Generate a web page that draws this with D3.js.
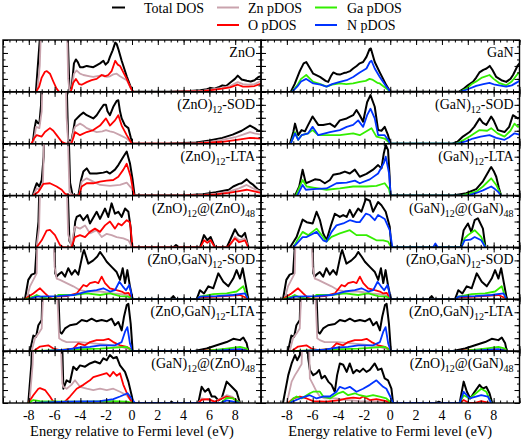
<!DOCTYPE html>
<html><head><meta charset="utf-8">
<script src="https://cdn.jsdelivr.net/npm/d3@7"></script>
<style>body{margin:0;background:#fff}svg{display:block}
svg text{font-family:"Liberation Serif","DejaVu Serif","Noto Serif",serif !important;}</style>
</head><body>
<svg id="c" width="522" height="439"></svg>
<script>
// ---------- tick labels / legend ----------
const xTicks = [-8,-6,-4,-2,0,2,4,6,8];
const legendNames = ["Total DOS","Zn pDOS","O pDOS","Ga pDOS","N pDOS"];
const leftLabels = ["ZnO","(ZnO)|12|-SOD","(ZnO)|12|-LTA","(ZnO)|12|@(ZnO)|48","(ZnO,GaN)|12|-SOD","(ZnO,GaN)|12|-LTA","(GaN)|12|@(ZnO)|48"];
const rightLabels = ["GaN","(GaN)|12|-SOD","(GaN)|12|-LTA","(GaN)|12|@(GaN)|48","(ZnO,GaN)|12|-SOD","(ZnO,GaN)|12|-LTA","(ZnO)|12|@(GaN)|48"];

// ---------- data: [energy (eV), DOS] ----------
// ZnO bulk
const znoTot = [[-7.45,0],[-7.15,4],[-6.95,8],[-5.1,8],[-4.85,0.2],[-4.68,0.3],[-4.5,2.2],[-4.35,2.5],[-4.2,2.3],[-4.03,1.9],[-3.8,1.9],[-3.51,2.0],[-3.3,1.95],[-3.0,1.9],[-2.75,2.05],[-2.48,2.2],[-2.22,2.4],[-2.05,2.1],[-1.85,2.3],[-1.71,2.7],[-1.5,3.2],[-1.3,3.8],[-1.19,3.7],[-1.06,3.3],[-0.8,2.4],[-0.41,1.2],[-0.15,0.5],[0.05,0.05],[0.2,0],[2.8,0],[3.7,0.03],[4.5,0.06],[5.3,0.12],[5.8,0.2],[6.1,0.3],[6.4,0.25],[6.7,0.35],[7.0,0.5],[7.3,0.45],[7.6,0.7],[7.98,1.0],[8.2,1.25],[8.5,0.95],[8.9,0.85],[9.2,0.8],[9.5,0.9],[9.8,1.15],[10,1.2]];
const znoZn = [[-7.35,0],[-7.15,2],[-6.95,8],[-5.1,8],[-4.95,1],[-4.85,0.1],[-4.68,0.2],[-4.5,1.4],[-4.3,1.65],[-4.03,1.4],[-3.77,1.3],[-3.26,1.2],[-3.0,1.15],[-2.48,1.25],[-2.22,1.3],[-1.96,1.15],[-1.71,1.2],[-1.45,1.35],[-1.19,1.4],[-0.93,1.2],[-0.41,0.9],[-0.1,0.3],[0.1,0],[3.0,0],[5.5,0.1],[6.3,0.2],[7.0,0.3],[7.6,0.45],[8.2,0.75],[8.6,0.6],[9.0,0.55],[9.5,0.6],[9.9,0.8],[10,0.82]];
const znoO = [[-7.45,0],[-7.2,0.4],[-7.0,1.1],[-6.75,1.55],[-6.6,1.6],[-6.36,1.4],[-6.1,0.8],[-5.85,0.25],[-5.65,0],[-4.75,0],[-4.55,0.7],[-4.35,1.0],[-4.1,0.6],[-3.9,0.55],[-3.51,0.75],[-3.13,0.9],[-2.74,1.0],[-2.35,1.3],[-2.1,1.2],[-1.84,1.3],[-1.58,1.6],[-1.3,2.4],[-1.1,2.1],[-0.93,2.0],[-0.41,1.0],[-0.1,0.3],[0.1,0],[3.0,0],[5.5,0.05],[6.3,0.15],[7.0,0.25],[7.6,0.35],[8.2,0.55],[8.6,0.4],[9.0,0.4],[9.5,0.45],[9.9,0.6],[10,0.62]];
// GaN bulk
const ganTot = [[-7.7,0],[-7.4,0.6],[-7.0,1.6],[-6.7,2.2],[-6.5,2.3],[-6.2,1.8],[-5.96,1.4],[-5.44,1.15],[-5.0,0.85],[-4.8,0.77],[-4.6,1.2],[-4.41,1.5],[-4.1,1.35],[-3.9,1.33],[-3.6,1.45],[-3.37,1.5],[-3.1,1.6],[-2.87,1.8],[-2.6,2.0],[-2.36,2.2],[-2.1,2.3],[-1.84,2.7],[-1.6,3.3],[-1.5,3.35],[-1.2,2.3],[-0.81,1.5],[-0.3,0.5],[0.01,0],[5.3,0],[5.7,0.25],[6.0,0.5],[6.4,0.77],[6.65,1.1],[6.9,1.5],[7.2,1.7],[7.45,1.8],[7.7,2.0],[7.9,1.7],[8.2,1.15],[8.6,0.9],[8.97,0.77],[9.3,1.0],[9.5,1.3],[9.87,2.05],[10,2.2]];
const ganGa = [[-7.6,0],[-7.2,0.5],[-6.9,1.0],[-6.5,1.3],[-6.2,1.0],[-5.96,0.77],[-5.4,0.6],[-4.93,0.4],[-4.5,0.55],[-3.9,0.65],[-3.4,0.6],[-2.87,0.65],[-2.36,0.77],[-1.9,0.85],[-1.6,1.0],[-1.4,0.95],[-1.0,0.7],[-0.81,0.65],[-0.3,0.25],[0.01,0],[5.4,0],[5.9,0.25],[6.3,0.6],[6.65,0.8],[7.1,1.1],[7.68,1.3],[8.0,1.0],[8.4,0.7],[8.97,0.5],[9.4,0.8],[9.87,1.4],[10,1.5]];
const ganN = [[-7.6,0],[-7.2,0.4],[-6.9,0.8],[-6.5,1.0],[-6.2,0.8],[-5.96,0.65],[-5.4,0.55],[-4.93,0.4],[-4.5,0.6],[-3.9,0.77],[-3.37,0.9],[-2.87,1.15],[-2.36,1.5],[-1.84,1.8],[-1.58,2.3],[-1.45,2.4],[-1.2,1.8],[-0.81,1.15],[-0.3,0.4],[0.01,0],[5.4,0],[6.0,0.2],[6.65,0.46],[7.2,0.6],[7.68,0.7],[8.1,0.55],[8.97,0.4],[9.4,0.5],[9.87,0.77],[10,0.85]];
// (ZnO)12-SOD
const zsodTot = [[-7.7,0],[-7.55,1.2],[-7.44,1.8],[-7.3,1.6],[-7.18,1.55],[-7.05,3],[-6.95,8],[-5.15,8],[-4.95,0.3],[-4.7,0.2],[-4.55,1.0],[-4.42,1.8],[-4.03,2.2],[-3.77,2.4],[-3.51,2.2],[-3.0,1.95],[-2.74,2.2],[-2.48,2.6],[-2.2,3.0],[-2.02,3.0],[-1.9,2.5],[-1.71,2.2],[-1.45,2.85],[-1.19,3.3],[-1.06,3.35],[-0.93,2.5],[-0.8,1.95],[-0.54,1.4],[-0.28,1.2],[-0.1,0.5],[0.05,0],[2.8,0],[4.0,0.05],[5.0,0.1],[6.0,0.25],[7.0,0.45],[7.8,0.7],[8.5,1.0],[9.15,1.4],[9.5,1.2],[9.79,1.0],[10,1.0]];
const zsodZn = [[-7.65,0],[-7.5,0.9],[-7.44,1.3],[-7.18,1.2],[-7.0,2.5],[-6.87,8],[-5.2,8],[-5.07,2],[-4.95,0.1],[-4.7,0.1],[-4.55,0.9],[-4.42,1.3],[-4.03,1.55],[-3.77,1.4],[-3.51,1.2],[-2.74,0.9],[-2.3,0.95],[-2.02,1.05],[-1.71,0.95],[-1.45,0.9],[-0.93,0.66],[-0.41,0.4],[-0.1,0.1],[0.05,0],[3,0],[5,0.05],[6,0.15],[7,0.3],[8,0.5],[8.6,0.7],[9.15,0.9],[9.5,0.8],[10,0.7]];
const zsodO = [[-7.8,0],[-7.6,0.4],[-7.39,0.66],[-7.0,0.55],[-6.75,0.9],[-6.36,1.2],[-6.1,1.0],[-5.84,0.66],[-5.45,0.15],[-5.1,0],[-4.7,0],[-4.5,0.6],[-4.42,0.9],[-4.03,0.66],[-3.51,0.9],[-3.0,1.05],[-2.48,1.4],[-2.02,1.95],[-1.71,1.4],[-1.32,1.8],[-1.06,2.2],[-0.8,1.4],[-0.41,0.66],[-0.1,0.15],[0.05,0],[3,0],[5,0.03],[6,0.08],[7,0.15],[8,0.28],[9.15,0.45],[10,0.4]];
// (GaN)12-SOD
const gsodTot = [[-7.76,0],[-7.5,0.9],[-7.37,1.55],[-7.12,0.66],[-6.86,1.05],[-6.6,0.95],[-6.35,1.45],[-6.01,2.1],[-5.57,1.45],[-5.19,1.45],[-4.67,1.55],[-4.29,1.3],[-3.9,1.8],[-3.37,1.95],[-2.87,2.2],[-2.61,2.6],[-2.36,2.2],[-2.1,1.7],[-1.79,3.2],[-1.53,3.75],[-1.2,2.85],[-0.94,1.05],[-0.68,1.0],[-0.43,1.3],[-0.17,0.66],[0.01,0],[4.8,0],[5.2,0.15],[5.62,0.55],[6.14,0.9],[6.5,1.3],[6.91,1.95],[7.17,1.6],[7.43,1.45],[7.81,2.1],[8.0,1.8],[8.33,1.05],[8.84,0.9],[9.2,1.3],[9.49,2.2],[9.87,1.95],[10,2.0]];
const gsodGa = [[-7.7,0],[-7.37,0.9],[-7.12,0.3],[-6.86,0.66],[-6.35,0.8],[-6.01,1.05],[-5.57,0.66],[-4.93,0.66],[-3.9,0.66],[-2.87,0.8],[-2.36,0.66],[-1.45,1.2],[-1.07,0.55],[-0.43,0.4],[0.01,0],[5.1,0],[5.7,0.3],[6.14,0.55],[6.91,1.05],[7.5,1.0],[7.81,1.2],[8.3,0.8],[8.84,0.55],[9.3,1.0],[9.61,1.55],[9.87,1.3],[10,1.35]];
const gsodN = [[-7.7,0],[-7.37,0.8],[-7.12,0.3],[-6.86,0.66],[-6.35,0.8],[-6.01,1.3],[-5.57,0.66],[-4.67,0.9],[-3.9,1.05],[-3.37,1.3],[-2.87,1.45],[-2.48,1.8],[-2.1,1.3],[-1.79,2.2],[-1.53,2.7],[-1.2,1.95],[-0.94,0.66],[-0.43,0.66],[-0.17,0.3],[0.01,0],[5.2,0],[5.9,0.2],[6.4,0.4],[7.0,0.55],[7.68,0.66],[8.2,0.45],[8.84,0.3],[9.2,0.5],[9.61,0.8],[10,0.7]];
// (ZnO)12-LTA
const zltaTot = [[-7.7,0],[-7.52,0.6],[-7.39,0.95],[-7.18,0.7],[-7.0,1.2],[-6.85,3],[-6.74,8],[-5.0,8],[-4.8,1],[-4.6,0],[-4.16,0],[-3.95,1.2],[-3.77,1.85],[-3.51,2.1],[-3.26,1.7],[-2.74,1.7],[-2.22,1.77],[-1.96,1.85],[-1.71,1.7],[-1.32,2.0],[-1.06,2.35],[-0.67,3.0],[-0.41,3.4],[-0.16,2.5],[0.05,1.2],[0.2,0],[3.5,0],[4.24,0.02],[5.5,0.1],[6.5,0.25],[7.5,0.45],[7.85,0.7],[8.3,0.9],[8.5,0.95],[8.89,1.25],[9.15,1.0],[9.41,0.82],[9.79,0.45],[10,0.4]];
const zltaZn = [[-7.65,0],[-7.39,0.55],[-7.13,0.45],[-6.9,1.0],[-6.74,8],[-5.07,8],[-4.85,0.3],[-4.6,0],[-4.1,0],[-3.9,1.08],[-3.51,1.33],[-3.0,1.08],[-2.48,0.82],[-1.71,0.75],[-0.93,0.82],[-0.41,1.0],[-0.03,0.55],[0.15,0],[3.5,0],[5.5,0.05],[6.5,0.15],[7.5,0.3],[8.3,0.55],[8.89,0.82],[9.4,0.55],[10,0.3]];
const zltaO = [[-7.65,0],[-7.26,0.3],[-6.87,0.9],[-6.36,0.95],[-5.84,0.7],[-5.45,0.45],[-5.2,0.15],[-4.8,0],[-4.1,0],[-3.9,0.7],[-3.51,0.95],[-3.0,0.95],[-2.48,1.08],[-1.96,1.15],[-1.45,1.2],[-1.06,1.45],[-0.67,2.0],[-0.41,2.45],[-0.1,1.45],[0.15,0],[3.5,0],[5.5,0.03],[6.5,0.1],[7.5,0.2],[8.3,0.35],[8.89,0.45],[9.4,0.35],[10,0.2]];
// (GaN)12-LTA
const gltaTot = [[-7.37,0],[-7.04,0.7],[-6.78,2.0],[-6.53,0.95],[-6.22,1.08],[-5.83,1.25],[-5.44,1.2],[-5.06,0.95],[-4.67,1.2],[-4.41,1.6],[-3.9,1.7],[-3.51,1.85],[-3.13,1.7],[-2.74,2.0],[-2.36,1.45],[-1.84,1.67],[-1.33,2.0],[-0.94,2.35],[-0.68,2.1],[-0.5,3.25],[-0.35,3.9],[-0.17,3.5],[-0.05,1.5],[0.01,0],[4.85,0],[5.88,0.18],[6.65,0.5],[7.17,1.1],[7.68,2.0],[7.81,2.2],[8.0,1.9],[8.2,1.45],[8.4,0.6],[8.58,0]];
const gltaGa = [[-7.3,0],[-7.04,0.6],[-6.78,1.2],[-6.47,0.7],[-5.96,0.62],[-4.93,0.45],[-3.9,0.55],[-2.87,0.7],[-1.84,0.7],[-1.07,0.75],[-0.43,0.95],[-0.1,0.5],[0.01,0],[5.5,0],[6.65,0.3],[7.17,0.7],[7.81,1.33],[8.2,0.82],[8.4,0.4],[8.58,0]];
const gltaN = [[-7.2,0],[-7.04,0.3],[-6.78,0.82],[-6.53,0.45],[-5.96,0.5],[-4.93,0.55],[-4.16,0.95],[-3.37,1.0],[-2.74,1.15],[-2.36,0.95],[-1.58,1.25],[-0.94,1.7],[-0.5,2.5],[-0.35,3.0],[-0.09,1.7],[0.04,0],[6.0,0],[6.65,0.2],[7.17,0.4],[7.81,0.7],[8.1,0.5],[8.33,0.3],[8.58,0]];
// (ZnO)12@(ZnO)48
const zzTot = [[-7.45,0],[-7.25,2],[-7.1,8],[-5.1,8],[-4.85,0.5],[-4.6,0.1],[-4.55,0.5],[-4.4,2.0],[-4.29,2.35],[-4.03,2.5],[-3.77,2.1],[-3.46,2.5],[-3.26,1.85],[-2.74,2.75],[-2.48,2.2],[-2.09,3.0],[-1.84,2.35],[-1.58,3.4],[-1.32,2.6],[-1.06,2.75],[-0.8,2.35],[-0.54,3.0],[-0.28,2.75],[-0.1,1.5],[-0.03,0],[3.2,0],[3.41,0.18],[3.62,0],[5.27,0],[5.58,0.95],[5.84,0.55],[6.1,0.8],[6.43,0],[7.34,0],[7.6,0.55],[7.98,1.4],[8.24,0.95],[8.5,0.82],[8.76,1.12],[9.02,0]];
const zzZn = [[-7.4,0],[-7.2,1.5],[-7.05,8],[-5.15,8],[-4.95,1.0],[-4.7,0.1],[-4.55,1.0],[-4.42,1.6],[-4.03,1.45],[-3.64,1.7],[-3.26,1.08],[-2.74,1.33],[-2.35,0.8],[-1.96,1.05],[-1.58,0.95],[-1.19,0.8],[-0.67,0.7],[-0.28,0.55],[-0.03,0.1],[0.05,0],[7.4,0],[7.7,0.3],[7.98,0.82],[8.3,0.55],[8.76,0.7],[9.02,0]];
const zzO = [[-7.4,0],[-7.0,0.55],[-6.62,1.3],[-6.36,1.35],[-5.97,0.95],[-5.58,0.18],[-5.32,0],[-4.7,0],[-4.42,0.8],[-4.03,0.95],[-3.64,0.8],[-3.26,1.2],[-2.87,1.45],[-2.48,1.2],[-2.09,1.7],[-1.71,2.0],[-1.32,1.45],[-1.06,1.85],[-0.8,1.7],[-0.41,2.1],[-0.16,1.95],[0.05,0],[5.3,0],[5.58,0.55],[5.84,0.35],[6.1,0.55],[6.43,0],[7.4,0],[7.98,0.7],[8.3,0.4],[8.76,0.55],[9.02,0]];
// (GaN)12@(GaN)48
const ggTot = [[-7.76,0],[-7.25,0.8],[-6.78,2.15],[-6.47,1.95],[-6.0,1.85],[-5.7,2.75],[-5.44,2.1],[-5.19,1.08],[-4.93,0.55],[-4.62,1.6],[-4.29,2.6],[-3.9,2.35],[-3.64,2.5],[-3.37,2.35],[-3.13,2.9],[-2.87,2.35],[-2.48,3.0],[-2.23,2.75],[-1.89,3.75],[-1.58,3.6],[-1.33,2.75],[-0.94,3.5],[-0.68,3.25],[-0.35,2.75],[-0.04,1.6],[0.09,0],[5.45,0],[5.68,1.33],[6.01,1.85],[6.27,1.2],[6.53,2.1],[6.78,2.25],[7.17,1.45],[7.37,0]];
const ggGa = [[-7.5,0],[-7.25,0.45],[-6.78,1.2],[-6.35,0.95],[-5.7,1.45],[-5.19,0.8],[-4.93,0.45],[-4.54,0.82],[-3.9,1.08],[-3.13,1.33],[-2.61,0.95],[-1.84,0.95],[-1.07,0.55],[-0.55,0.55],[-0.17,0.45],[0.09,0],[5.5,0],[5.75,0.7],[6.01,0.95],[6.53,1.33],[7.04,0.82],[7.37,0]];
const ggN = [[-7.5,0],[-6.78,0.8],[-6.47,0.8],[-5.7,1.2],[-5.19,0.55],[-4.93,0.45],[-4.54,1.2],[-4.16,1.7],[-3.64,1.85],[-3.13,2.1],[-2.61,1.95],[-2.36,1.95],[-1.89,2.6],[-1.58,2.5],[-1.2,2.1],[-0.94,2.5],[-0.43,2.2],[-0.04,1.33],[0.17,0],[3.31,0],[3.49,0.3],[3.69,0],[5.5,0],[5.75,0.55],[6.2,0.6],[6.53,0.8],[7.04,0.55],[7.37,0]];
// (ZnO,GaN)12-SOD
const zgsTot = [[-8.3,0],[-8.04,1.5],[-7.78,1.9],[-7.52,2.0],[-7.39,4],[-7.3,8],[-6.1,8],[-5.95,2.0],[-5.84,1.75],[-5.71,1.9],[-5.45,2.1],[-5.19,1.75],[-4.94,2.4],[-4.68,1.9],[-4.42,2.25],[-4.16,1.9],[-3.82,3.5],[-3.72,3.8],[-3.39,2.75],[-3.0,3.0],[-2.69,3.3],[-2.48,3.65],[-2.22,3.3],[-1.96,2.9],[-1.58,2.5],[-1.19,2.1],[-0.93,1.5],[-0.72,2.4],[-0.54,1.25],[-0.36,2.25],[-0.16,1.0],[0.05,0],[3.0,0],[3.2,0.25],[3.41,0],[5.01,0],[5.27,0.7],[5.58,0.45],[5.92,1.0],[6.3,0.85],[6.69,2.0],[7.08,1.35],[7.47,1.0],[7.85,1.6],[8.11,2.25],[8.37,1.6],[8.58,2.4],[8.84,1.0],[9.02,0]];
const zgsZn = [[-8.17,0],[-7.91,1.0],[-7.65,1.5],[-7.39,2.0],[-7.26,8],[-6.15,8],[-6.0,2.5],[-5.84,1.6],[-5.58,1.5],[-5.07,1.25],[-4.55,1.0],[-4.03,0.7],[-3.51,0.6],[-2.48,0.6],[-1.45,0.45],[-0.41,0.35],[-0.03,0.1],[0.05,0]];
const zgsO = [[-8.29,0],[-8.04,0.2],[-7.65,0.45],[-7.26,0.75],[-7.13,0.85],[-6.74,0.45],[-6.36,0.1],[-6.0,0],[-5.84,0.2],[-5.07,0.25],[-4.29,0.45],[-3.77,1.1],[-3.51,1.0],[-3.26,1.25],[-2.87,1.35],[-2.61,1.25],[-2.35,1.75],[-2.09,1.25],[-1.71,0.85],[-1.19,0.7],[-0.8,0.6],[-0.54,0.45],[-0.28,0.5],[-0.03,0.1],[0.05,0],[5.0,0],[5.27,0.15],[6.56,0.2],[8.37,0.33],[8.89,0.1],[9.02,0]];
const zgsGa = [[-8.29,0],[-7.65,0.2],[-7.39,0.33],[-7.0,0.15],[-6.1,0],[-5.71,0.33],[-4.55,0.33],[-3.51,0.45],[-2.48,0.33],[-1.71,0.45],[-0.93,0.25],[-0.28,0.2],[0.0,0.05],[0.05,0],[5.0,0],[5.27,0.2],[6.3,0.4],[7.34,0.45],[8.11,0.6],[8.63,1.0],[8.89,0.2],[9.02,0]];
const zgsN = [[-8.04,0],[-7.39,0.2],[-5.71,0.25],[-4.55,0.33],[-3.51,0.6],[-2.74,0.7],[-2.22,0.85],[-1.71,0.6],[-1.32,0.7],[-0.98,1.35],[-0.72,1.0],[-0.47,0.7],[-0.21,1.1],[0.05,0],[5.0,0],[5.27,0.2],[6.56,0.25],[7.85,0.33],[8.76,0.45],[9.02,0]];
// (ZnO,GaN)12-LTA
const zglTot = [[-7.91,0],[-7.65,1.2],[-7.44,1.1],[-7.26,2.0],[-7.0,2.4],[-6.87,8],[-5.84,8],[-5.6,1.5],[-5.45,1.35],[-5.19,1.75],[-4.81,2.0],[-4.29,2.1],[-3.9,2.4],[-3.51,2.3],[-3.13,2.5],[-2.74,2.3],[-2.35,2.4],[-1.96,2.3],[-1.58,2.5],[-1.32,2.0],[-1.06,2.25],[-0.8,1.6],[-0.62,2.65],[-0.41,3.55],[-0.28,3.65],[-0.1,2.1],[0.05,0],[4.75,0],[5.79,0.2],[6.56,0.45],[7.34,0.7],[7.85,0.95],[8.37,0.85],[8.63,1.05],[8.89,0.6],[9.02,0]];
const zglZn = [[-7.78,0],[-7.52,1.0],[-7.26,1.35],[-7.0,1.75],[-6.75,8],[-5.95,8],[-5.65,1.0],[-5.45,0.85],[-5.07,0.7],[-4.03,0.7],[-3.0,0.6],[-1.96,0.5],[-0.93,0.35],[-0.03,0.1],[0.05,0]];
const zglO = [[-7.65,0],[-7.13,0.35],[-6.49,0.45],[-6.1,0.2],[-5.58,0.08],[-4.55,0.2],[-4.16,0.6],[-3.64,0.45],[-3.26,0.7],[-2.74,0.85],[-2.22,0.85],[-1.83,0.95],[-1.45,0.7],[-0.93,0.45],[-0.41,0.33],[-0.03,0.1],[0.05,0],[5,0],[6.5,0.1],[8.0,0.12],[8.9,0.1],[9.02,0]];
const zglGa = [[-7.65,0],[-5.07,0.12],[-2.48,0.2],[-0.41,0.33],[0.05,0],[5.5,0],[7.34,0.2],[8.37,0.33],[8.89,0.2],[9.02,0]];
const zglN = [[-7.0,0],[-5.07,0.12],[-4.03,0.28],[-3.26,0.33],[-2.48,0.45],[-1.32,0.45],[-0.8,0.7],[-0.54,1.5],[-0.36,1.85],[-0.16,0.6],[0.05,0],[6,0],[8.37,0.15],[9.02,0]];
// (GaN)12@(ZnO)48
const gzTot = [[-8.04,0],[-7.8,3],[-7.65,8],[-5.5,8],[-5.32,1.1],[-5.07,1.75],[-4.81,1.6],[-4.55,2.8],[-4.29,2.55],[-4.03,2.9],[-3.64,2.8],[-3.26,3.05],[-2.87,3.2],[-2.48,3.05],[-2.22,3.45],[-1.96,3.3],[-1.71,3.7],[-1.45,3.45],[-1.19,3.55],[-0.93,2.9],[-0.54,2.4],[-0.28,1.65],[-0.03,0.6],[0.1,0],[2.95,0],[3.07,0.1],[3.2,0],[5.14,0],[5.4,1.25],[5.66,0.87],[5.92,1.1],[6.18,0.5],[6.43,0.5],[6.7,0.2],[6.95,0.35],[7.34,1.65],[7.73,1.25],[8.11,0.87],[8.37,0]];
const gzZn = [[-7.95,0],[-7.7,3],[-7.55,8],[-5.65,8],[-5.4,1.5],[-5.32,1.25],[-5.07,1.1],[-4.7,1.4],[-4.42,1.75],[-4.03,1.25],[-3.51,1.1],[-3.0,1.0],[-2.48,1.1],[-1.96,1.0],[-1.45,1.1],[-0.93,0.87],[-0.41,0.6],[-0.03,0.1],[0.1,0],[5.14,0],[5.4,0.35],[5.92,0.25],[6.4,0.1],[7.34,0.6],[7.73,0.5],[8.37,0]];
const gzO = [[-8.04,0],[-7.65,0.6],[-7.26,1.1],[-7.13,1.15],[-6.74,1.0],[-6.36,0.5],[-6.1,0.1],[-5.71,0],[-5.2,0.1],[-4.81,0.5],[-4.29,1.1],[-3.77,1.4],[-3.26,1.75],[-3.0,2.0],[-2.48,2.15],[-1.96,2.3],[-1.71,2.05],[-1.45,2.4],[-1.19,2.1],[-0.93,2.3],[-0.67,1.4],[-0.28,0.5],[-0.03,0.1],[0.05,0],[5.14,0],[5.4,0.25],[5.92,0.3],[6.4,0.1],[7.34,0.5],[7.85,0.35],[8.37,0]];
const gzGa = [[-8.04,0],[-7.65,0.23],[-7.13,0.15],[-5.07,0.1],[-3.51,0.1],[-1.45,0.15],[-0.41,0.1],[0.05,0],[6.9,0],[7.34,0.4],[7.85,0.35],[8.37,0]];
const gzN = [[-7.65,0],[-5.07,0.1],[-2.48,0.15],[-1.45,0.3],[-0.93,0.5],[-0.34,0.75],[-0.03,0.35],[0.23,0],[6.9,0],[7.34,0.2],[8.37,0]];
// (ZnO)12@(GaN)48
const zgTot = [[-8.3,0],[-7.89,2.15],[-7.63,3.05],[-7.37,3.7],[-7.2,3.3],[-6.99,3.7],[-6.9,8],[-6.5,8],[-6.35,3.5],[-6.22,2.55],[-5.96,2.15],[-5.7,2.3],[-5.5,2.55],[-5.31,1.9],[-5.06,2.1],[-4.8,1.65],[-4.54,1.4],[-4.29,0.87],[-4.11,2.15],[-3.9,3.05],[-3.64,2.95],[-3.37,2.4],[-3.13,3.05],[-2.87,2.3],[-2.61,2.55],[-2.36,2.4],[-2.1,2.65],[-1.84,2.4],[-1.58,2.55],[-1.2,3.05],[-0.94,2.55],[-0.68,2.65],[-0.43,1.9],[-0.17,1.75],[0.09,1.1],[0.22,0],[3.57,0],[3.75,0.1],[3.95,0],[5.37,0],[5.68,1.65],[5.93,0.87],[6.19,0.35],[6.53,0.87],[6.91,1.4],[7.17,1.1],[7.43,1.25],[7.68,0.75],[7.89,0]];
const zgZn = [[-8.0,0],[-7.63,1.65],[-7.37,2.15],[-7.12,2.55],[-6.86,3.0],[-6.7,8],[-6.35,8],[-6.22,1.9],[-5.96,1.4],[-5.70,0.87],[-5.44,0.5],[-5.06,0.35],[-4.16,0.35],[-3.37,0.23],[-2.36,0.15],[-1.07,0.1],[0.0,0]];
const zgO = [[-7.9,0],[-7.5,0.35],[-6.99,0.5],[-6.47,0.35],[-5.96,0.15],[-4.93,0.1],[-3.9,0.23],[-3.37,0.35],[-2.87,0.41],[-2.36,0.35],[-2.1,0.5],[-1.58,0.23],[-1.07,0.3],[-0.3,0.15],[0.09,0],[5.37,0],[5.68,0.23],[6.1,0],[6.5,0],[7.04,0.15],[7.68,0]];
const zgGa = [[-7.8,0],[-7.5,0.35],[-7.25,0.5],[-6.86,0.35],[-6.22,0.75],[-5.96,0.87],[-5.44,0.87],[-5.19,0.5],[-4.67,0.35],[-4.03,0.75],[-3.64,0.87],[-3.26,0.6],[-2.74,0.75],[-2.36,0.6],[-1.84,0.5],[-1.33,0.6],[-0.81,0.5],[-0.3,0.35],[0.09,0],[5.37,0],[5.68,0.6],[6.14,0.35],[7.04,1.1],[7.43,0.87],[7.81,0]];
const zgN = [[-7.76,0],[-7.5,0.15],[-6.99,0.35],[-6.22,0.6],[-5.70,0.35],[-5.19,0.5],[-4.67,0.5],[-4.16,0.87],[-3.9,1.25],[-3.51,1.1],[-3.13,1.25],[-2.61,0.87],[-2.1,1.1],[-1.58,1.4],[-1.07,1.75],[-0.81,1.5],[-0.55,1.25],[-0.3,1.1],[0.0,0.5],[0.22,0],[5.37,0],[5.68,0.87],[6.14,0.35],[7.04,0.6],[7.55,0.5],[7.81,0]];

// ---------- panel table built from the arrays ----------
const leftCol = [
  {tot:znoTot, zn:znoZn, o:znoO},
  {tot:zsodTot, zn:zsodZn, o:zsodO},
  {tot:zltaTot, zn:zltaZn, o:zltaO},
  {tot:zzTot, zn:zzZn, o:zzO},
  {tot:zgsTot, zn:zgsZn, o:zgsO, ga:zgsGa, n:zgsN},
  {tot:zglTot, zn:zglZn, o:zglO, ga:zglGa, n:zglN},
  {tot:gzTot, zn:gzZn, o:gzO, ga:gzGa, n:gzN}
];
const rightCol = [
  {tot:ganTot, ga:ganGa, n:ganN},
  {tot:gsodTot, ga:gsodGa, n:gsodN},
  {tot:gltaTot, ga:gltaGa, n:gltaN},
  {tot:ggTot, ga:ggGa, n:ggN},
  {tot:zgsTot, zn:zgsZn, o:zgsO, ga:zgsGa, n:zgsN},
  {tot:zglTot, zn:zglZn, o:zglO, ga:zglGa, n:zglN},
  {tot:zgTot, zn:zgZn, o:zgO, ga:zgGa, n:zgN}
];

// ---------- drawing ----------
const colors = {tot:"#000000", zn:"#c9a3ad", o:"#ff0000", ga:"#33ee00", n:"#0033ff"};
const order = ["tot","zn","o","ga","n"];
const svg = d3.select("#c");
const FONT = '"Liberation Serif","DejaVu Serif",serif';
const top0 = 40, bottom0 = 403, nRows = 7;
const rowH = (bottom0 - top0) / nRows;
const cols = [{x0:3, x1:261, panels:leftCol, labels:leftLabels},
              {x0:261, x1:519.5, panels:rightCol, labels:rightLabels}];
const defs = svg.append("defs");

cols.forEach((col, ci) => {
  const x = d3.scaleLinear().domain([-10,10]).range([col.x0, col.x1]);
  col.panels.forEach((p, ri) => {
    const yTop = top0 + ri*rowH, yBot = yTop + rowH;
    const y = d3.scaleLinear().domain([0,4]).range([yBot, yTop]);
    const id = `clip${ci}_${ri}`;
    defs.append("clipPath").attr("id", id).append("rect")
      .attr("x", col.x0).attr("y", yTop).attr("width", col.x1-col.x0).attr("height", rowH);
    const g = svg.append("g").attr("clip-path", `url(#${id})`);
    const line = d3.line().x(d => x(d[0])).y(d => y(d[1]));
    order.forEach(k => {
      if (!p[k]) return;
      g.append("path").attr("d", line(p[k])).attr("fill","none")
        .attr("stroke", colors[k]).attr("stroke-width", k==="tot" ? 2 : 1.8)
        .attr("stroke-linejoin","round");
    });
    // ticks
    const ax = svg.append("g").attr("stroke","#000").attr("stroke-width",1);
    const mkX = (vals, len) => {
      const a1 = d3.axisBottom(x).tickValues(vals).tickSize(len).tickFormat("");
      const a2 = d3.axisTop(x).tickValues(vals).tickSize(len).tickFormat("");
      const t = ax.append("g").attr("transform",`translate(0,${yTop})`).call(a1);
      const b = ax.append("g").attr("transform",`translate(0,${yBot})`).call(a2);
      t.select(".domain").remove(); b.select(".domain").remove();
    };
    mkX(d3.range(-10, 10.001, 0.5), 2.5);
    mkX(d3.range(-10, 10.001, 2), 5);
    const mkY = (vals, len) => {
      const l = ax.append("g").attr("transform",`translate(${col.x0},0)`)
        .call(d3.axisRight(y).tickValues(vals).tickSize(len).tickFormat(""));
      const r = ax.append("g").attr("transform",`translate(${col.x1},0)`)
        .call(d3.axisLeft(y).tickValues(vals).tickSize(len).tickFormat(""));
      l.select(".domain").remove(); r.select(".domain").remove();
    };
    mkY(d3.range(0, 4.001, 0.5), 2.5);
    mkY(d3.range(0, 4.001, 1), 5);
    svg.append("rect").attr("x", col.x0).attr("y", yTop)
      .attr("width", col.x1-col.x0).attr("height", rowH)
      .attr("fill","none").attr("stroke","#000").attr("stroke-width",1.4);
    // panel label
    const parts = col.labels[ri].split("|");
    const txt = svg.append("text").attr("x", col.x1 - 6).attr("y", yTop + 17)
      .attr("text-anchor","end").style("font-family", FONT).attr("font-size", 14).attr("fill","#000");
    parts.forEach((s, i) => {
      if (i % 2 === 1) txt.append("tspan").attr("font-size", 10).attr("dy", 4).text(s);
      else txt.append("tspan").attr("dy", i === 0 ? 0 : -4).text(s);
    });
  });
  // x tick labels and title
  xTicks.forEach(t => {
    svg.append("text").attr("x", x(t)).attr("y", 420).attr("text-anchor","middle")
      .style("font-family", FONT).attr("font-size", 14).text(String(t));
  });
  svg.append("text").attr("x", (col.x0+col.x1)/2).attr("y", 435.5).attr("text-anchor","middle")
    .style("font-family", FONT).attr("font-size", 14.5).text("Energy relative to Fermi level (eV)");
});

// legend
const legendPos = [
  {k:"tot", lx0:112, lx1:125, y:7.5, tx:144},
  {k:"zn", lx0:217, lx1:239, y:7.5, tx:248},
  {k:"o", lx0:217, lx1:239, y:25, tx:248},
  {k:"ga", lx0:315, lx1:337, y:7.5, tx:347},
  {k:"n", lx0:315, lx1:337, y:25, tx:347}
];
legendPos.forEach(d => {
  svg.append("line").attr("x1", d.lx0).attr("x2", d.lx1).attr("y1", d.y).attr("y2", d.y)
    .attr("stroke", colors[d.k]).attr("stroke-width", 2);
  svg.append("text").attr("x", d.tx).attr("y", d.y + 5).style("font-family", FONT)
    .attr("font-size", 14).text(legendNames[order.indexOf(d.k)]);
});
</script>
</body></html>
